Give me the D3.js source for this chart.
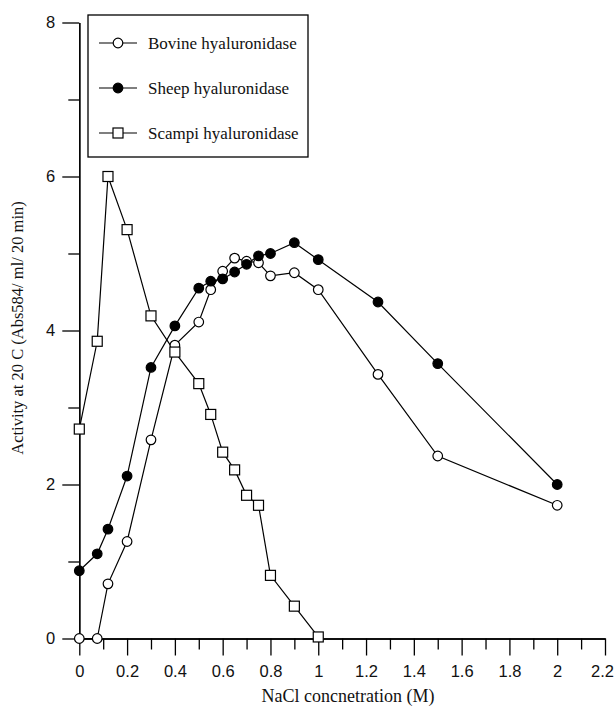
<!DOCTYPE html>
<html>
<head>
<meta charset="utf-8">
<script src="https://cdn.jsdelivr.net/npm/d3@7"></script>
<style>
  body { margin: 0; background: #fff; }
  svg { display: block; font-family: "Liberation Serif", "Times New Roman", serif; }
</style>
</head>
<body>
<div id="vis"></div>
<script>
var width = 614;
var height = 711;

// NaCl concentration (M)
var bovineX = [0, 0.075, 0.12, 0.2, 0.3, 0.4, 0.5, 0.55, 0.6, 0.65, 0.7, 0.75, 0.8, 0.9, 1.0, 1.25, 1.5, 2.0];
var bovineY = [0, 0, 0.71, 1.26, 2.58, 3.81, 4.11, 4.53, 4.77, 4.94, 4.90, 4.88, 4.71, 4.75, 4.53, 3.43, 2.37, 1.73];

var sheepX = [0, 0.075, 0.12, 0.2, 0.3, 0.4, 0.5, 0.55, 0.6, 0.65, 0.7, 0.75, 0.8, 0.9, 1.0, 1.25, 1.5, 2.0];
var sheepY = [0.88, 1.10, 1.42, 2.11, 3.52, 4.06, 4.55, 4.64, 4.67, 4.76, 4.86, 4.97, 5.0, 5.14, 4.92, 4.37, 3.57, 2.0];

var scampiX = [0, 0.075, 0.12, 0.2, 0.3, 0.4, 0.5, 0.55, 0.6, 0.65, 0.7, 0.75, 0.8, 0.9, 1.0];
var scampiY = [2.72, 3.86, 6.0, 5.31, 4.19, 3.72, 3.31, 2.91, 2.42, 2.19, 1.86, 1.73, 0.82, 0.42, 0.02];

var xMajor = [0, 0.2, 0.4, 0.6, 0.8, 1, 1.2, 1.4, 1.6, 1.8, 2, 2.2];
var xMinor = [0.1, 0.3, 0.5, 0.7, 0.9, 1.1, 1.3, 1.5, 1.7, 1.9, 2.1];
var yMajor = [0, 2, 4, 6, 8];
var yMinor = [1, 3, 5, 7];

var seriesNames = ['Bovine hyaluronidase', 'Sheep hyaluronidase', 'Scampi hyaluronidase'];

var series = [
  { name: seriesNames[0], shape: 'circle', fill: '#fff', xs: bovineX, ys: bovineY },
  { name: seriesNames[1], shape: 'circle', fill: '#000', xs: sheepX, ys: sheepY },
  { name: seriesNames[2], shape: 'square', fill: '#fff', xs: scampiX, ys: scampiY }
];

var x = d3.scaleLinear().domain([0, 2.2]).range([79.3, 605]);
var y = d3.scaleLinear().domain([0, 8]).range([638.5, 22.5]);

var svg = d3.select('#vis').append('svg')
  .attr('width', width)
  .attr('height', height);

function styleAxis(g) {
  g.select('.domain').attr('stroke', '#000').attr('stroke-width', 1.3);
  g.selectAll('.tick line').attr('stroke', '#000').attr('stroke-width', 1.3);
  g.selectAll('.tick text').attr('fill', '#111').style('font-size', '16.5px');
}

// x axis
svg.append('g')
  .attr('transform', 'translate(0,' + y(0) + ')')
  .call(d3.axisBottom(x).tickValues(xMinor).tickSize(11).tickSizeOuter(0).tickFormat(''))
  .call(styleAxis);
var xAxisG = svg.append('g')
  .attr('transform', 'translate(0,' + y(0) + ')')
  .call(d3.axisBottom(x).tickValues(xMajor).tickSize(17).tickSizeOuter(0).tickPadding(10)
    .tickFormat(d3.format('~g')))
  .call(styleAxis);
// keep the last label inside the frame
xAxisG.selectAll('.tick text').filter(function (d) { return d === 2.2; }).attr('dx', -3);

// y axis
svg.append('g')
  .attr('transform', 'translate(' + x(0) + ',0)')
  .call(d3.axisLeft(y).tickValues(yMinor).tickSize(11).tickSizeOuter(0).tickFormat(''))
  .call(styleAxis);
svg.append('g')
  .attr('transform', 'translate(' + x(0) + ',0)')
  .call(d3.axisLeft(y).tickValues(yMajor).tickSize(17).tickSizeOuter(0).tickPadding(7))
  .call(styleAxis);

svg.append('text')
  .attr('x', 348)
  .attr('y', 702)
  .attr('text-anchor', 'middle')
  .style('font-size', '18px')
  .attr('fill', '#111')
  .text('NaCl concnetration (M)');

svg.append('text')
  .attr('transform', 'translate(23,328) rotate(-90)')
  .attr('text-anchor', 'middle')
  .style('font-size', '16.5px')
  .attr('fill', '#111')
  .text('Activity at 20 C (Abs584/ ml/ 20 min)');

function drawMarker(g, s, cx, cy) {
  if (s.shape === 'circle') {
    g.append('circle')
      .attr('cx', cx).attr('cy', cy).attr('r', 4.8)
      .attr('fill', s.fill).attr('stroke', '#000').attr('stroke-width', 1.2);
  } else {
    g.append('rect')
      .attr('x', cx - 5).attr('y', cy - 5).attr('width', 10).attr('height', 10)
      .attr('fill', s.fill).attr('stroke', '#000').attr('stroke-width', 1.2);
  }
}

var line = d3.line()
  .x(function (d) { return x(d[0]); })
  .y(function (d) { return y(d[1]); });

series.forEach(function (s) {
  var pts = s.xs.map(function (v, i) { return [v, s.ys[i]]; });
  svg.append('path')
    .datum(pts)
    .attr('d', line)
    .attr('fill', 'none')
    .attr('stroke', '#000')
    .attr('stroke-width', 1.2);
});

series.forEach(function (s) {
  var g = svg.append('g');
  s.xs.forEach(function (v, i) {
    drawMarker(g, s, x(v), y(s.ys[i]));
  });
});

// legend
var legend = svg.append('g');
legend.append('rect')
  .attr('x', 88).attr('y', 15).attr('width', 220).attr('height', 142)
  .attr('fill', '#fff').attr('stroke', '#000').attr('stroke-width', 1.3);

series.forEach(function (s, i) {
  var ly = 43 + i * 45;
  legend.append('line')
    .attr('x1', 99).attr('x2', 137).attr('y1', ly).attr('y2', ly)
    .attr('stroke', '#000').attr('stroke-width', 1.2);
  drawMarker(legend, s, 118, ly);
  legend.append('text')
    .attr('x', 148).attr('y', ly)
    .attr('dy', '0.33em')
    .style('font-size', '17px')
    .attr('fill', '#111')
    .text(s.name);
});
</script>
</body>
</html>
